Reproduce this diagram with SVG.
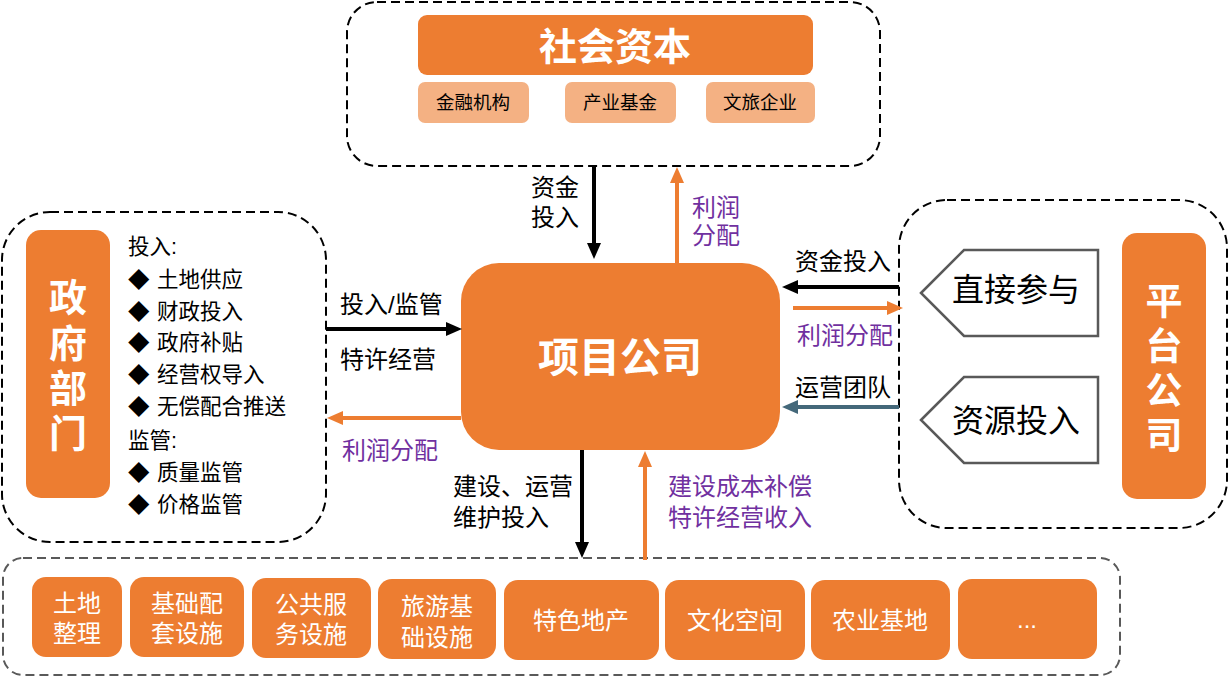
<svg xmlns="http://www.w3.org/2000/svg" width="1230" height="677" viewBox="0 0 1230 677">
<style>
text{font-family:"Liberation Sans","Noto Sans CJK SC",sans-serif;}
.dash{fill:none;stroke:#000;stroke-width:2;stroke-dasharray:9 5;}
.dashg{fill:none;stroke:#595959;stroke-width:2;stroke-dasharray:9 5;}
.org{fill:#ED7D31;}
.lt{fill:#F4B183;}
.wb{fill:#fff;font-weight:bold;text-anchor:middle;}
.w{fill:#fff;font-size:24px;text-anchor:middle;}
.lab{fill:#000;font-size:24px;}
.pur{fill:#7030A0;font-size:24px;}
.li{fill:#000;font-size:21.5px;}
.sub{fill:#000;font-size:18.5px;text-anchor:middle;}
.pent{fill:#fff;stroke:#595959;stroke-width:2.5;}
.ab{stroke:#000;stroke-width:4;fill:none;}
.ao{stroke:#ED7D31;stroke-width:4;fill:none;}
.as{stroke:#44687A;stroke-width:4;fill:none;}
</style>
<defs>
<marker id="mb" markerUnits="userSpaceOnUse" markerWidth="16" markerHeight="16" viewBox="0 0 16 16" refX="2" refY="8" orient="auto"><path d="M0,1 L16,8 L0,15 z" fill="#000"/></marker>
<marker id="mo" markerUnits="userSpaceOnUse" markerWidth="16" markerHeight="16" viewBox="0 0 16 16" refX="2" refY="8" orient="auto"><path d="M0,1 L16,8 L0,15 z" fill="#ED7D31"/></marker>
<marker id="ms" markerUnits="userSpaceOnUse" markerWidth="16" markerHeight="16" viewBox="0 0 16 16" refX="2" refY="8" orient="auto"><path d="M0,1 L16,8 L0,15 z" fill="#44687A"/></marker>
</defs>

<g id="social-capital">
<rect class="dash" x="347" y="2" width="533" height="164" rx="30"/>
<rect class="org" x="418" y="15" width="395" height="60" rx="9"/>
<text class="wb" x="615" y="60" font-size="38">社会资本</text>
<rect class="lt" x="418" y="82" width="111" height="41" rx="7"/>
<text class="sub" x="473" y="109">金融机构</text>
<rect class="lt" x="565" y="82" width="111" height="41" rx="7"/>
<text class="sub" x="620" y="109">产业基金</text>
<rect class="lt" x="706" y="82" width="109" height="41" rx="7"/>
<text class="sub" x="760" y="109">文旅企业</text>
</g>

<g id="government">
<rect class="dash" x="2" y="212" width="324" height="330" rx="48"/>
<rect class="org" x="26" y="230" width="84" height="268" rx="15"/>
<text class="wb" font-size="38"><tspan x="68" y="311">政</tspan><tspan x="68" y="357">府</tspan><tspan x="68" y="402">部</tspan><tspan x="68" y="447">门</tspan></text>
<text class="li" x="128" y="254">投入:</text>
<text class="li"><tspan x="128" y="287">◆</tspan><tspan x="157" y="287">土地供应</tspan></text>
<text class="li"><tspan x="128" y="319">◆</tspan><tspan x="157" y="319">财政投入</tspan></text>
<text class="li"><tspan x="128" y="350">◆</tspan><tspan x="157" y="350">政府补贴</tspan></text>
<text class="li"><tspan x="128" y="382">◆</tspan><tspan x="157" y="382">经营权导入</tspan></text>
<text class="li"><tspan x="128" y="414">◆</tspan><tspan x="157" y="414">无偿配合推送</tspan></text>
<text class="li" x="128" y="448">监管:</text>
<text class="li"><tspan x="128" y="480">◆</tspan><tspan x="157" y="480">质量监管</tspan></text>
<text class="li"><tspan x="128" y="512">◆</tspan><tspan x="157" y="512">价格监管</tspan></text>
</g>

<g id="project-company">
<rect class="org" x="461" y="263" width="319" height="187" rx="38"/>
<text class="wb" x="620" y="372" font-size="41">项目公司</text>
</g>

<g id="platform">
<rect class="dash" x="899" y="200" width="328" height="328" rx="48"/>
<polygon class="pent" points="921,293 964,250 1098,250 1098,336 964,336"/>
<text x="1016" y="301" font-size="32" text-anchor="middle" fill="#000">直接参与</text>
<polygon class="pent" points="921,420 964,377 1098,377 1098,463 964,463"/>
<text x="1016" y="432" font-size="32" text-anchor="middle" fill="#000">资源投入</text>
<rect class="org" x="1122" y="233" width="84" height="266" rx="15"/>
<text class="wb" font-size="37"><tspan x="1164" y="315">平</tspan><tspan x="1164" y="360">台</tspan><tspan x="1164" y="404">公</tspan><tspan x="1164" y="449">司</tspan></text>
</g>

<g id="projects">
<rect class="dashg" x="3" y="558" width="1117" height="117" rx="20"/>
<rect class="org" x="32" y="577" width="90" height="80" rx="14"/>
<text class="w"><tspan x="77" y="612">土地</tspan><tspan x="77" y="642">整理</tspan></text>
<rect class="org" x="130" y="577" width="114" height="80" rx="14"/>
<text class="w"><tspan x="187" y="612">基础配</tspan><tspan x="187" y="642">套设施</tspan></text>
<rect class="org" x="252" y="578" width="119" height="80" rx="14"/>
<text class="w"><tspan x="311" y="613">公共服</tspan><tspan x="311" y="643">务设施</tspan></text>
<rect class="org" x="378" y="579" width="118" height="80" rx="14"/>
<text class="w"><tspan x="437" y="615">旅游基</tspan><tspan x="437" y="646">础设施</tspan></text>
<rect class="org" x="504" y="580" width="155" height="80" rx="14"/>
<text class="w" x="581" y="629">特色地产</text>
<rect class="org" x="665" y="580" width="140" height="80" rx="14"/>
<text class="w" x="735" y="629">文化空间</text>
<rect class="org" x="811" y="580" width="139" height="80" rx="14"/>
<text class="w" x="880" y="629">农业基地</text>
<rect class="org" x="958" y="579" width="139" height="80" rx="14"/>
<text class="w" x="1027" y="628">...</text>
</g>

<g id="connectors">
<line class="ab" x1="594" y1="166" x2="594" y2="245" marker-end="url(#mb)"/>
<text class="lab"><tspan x="531" y="196">资金</tspan><tspan x="531" y="226">投入</tspan></text>
<line class="ao" x1="677" y1="263" x2="677" y2="181" marker-end="url(#mo)"/>
<text class="pur"><tspan x="692" y="216">利润</tspan><tspan x="692" y="244">分配</tspan></text>

<line class="ab" x1="326" y1="329" x2="448" y2="329" marker-end="url(#mb)"/>
<text class="lab" x="340" y="313">投入/监管</text>
<text class="lab" x="340" y="368">特许经营</text>
<line class="ao" x1="461" y1="418" x2="341" y2="418" marker-end="url(#mo)"/>
<text class="pur" x="342" y="459">利润分配</text>

<line class="ab" x1="582" y1="450" x2="582" y2="544" marker-end="url(#mb)"/>
<text class="lab"><tspan x="453" y="495">建设、运营</tspan><tspan x="453" y="526">维护投入</tspan></text>
<line class="ao" x1="645" y1="560" x2="645" y2="465" marker-end="url(#mo)"/>
<text class="pur"><tspan x="668" y="495">建设成本补偿</tspan><tspan x="668" y="526">特许经营收入</tspan></text>

<line class="ab" x1="899" y1="287" x2="796" y2="287" marker-end="url(#mb)"/>
<text class="lab" x="795" y="270">资金投入</text>
<line class="ao" x1="793" y1="308" x2="889" y2="308" marker-end="url(#mo)"/>
<text class="pur" x="797" y="344">利润分配</text>
<line class="as" x1="899" y1="407" x2="796" y2="407" marker-end="url(#ms)"/>
<text class="lab" x="795" y="396">运营团队</text>
</g>
</svg>
